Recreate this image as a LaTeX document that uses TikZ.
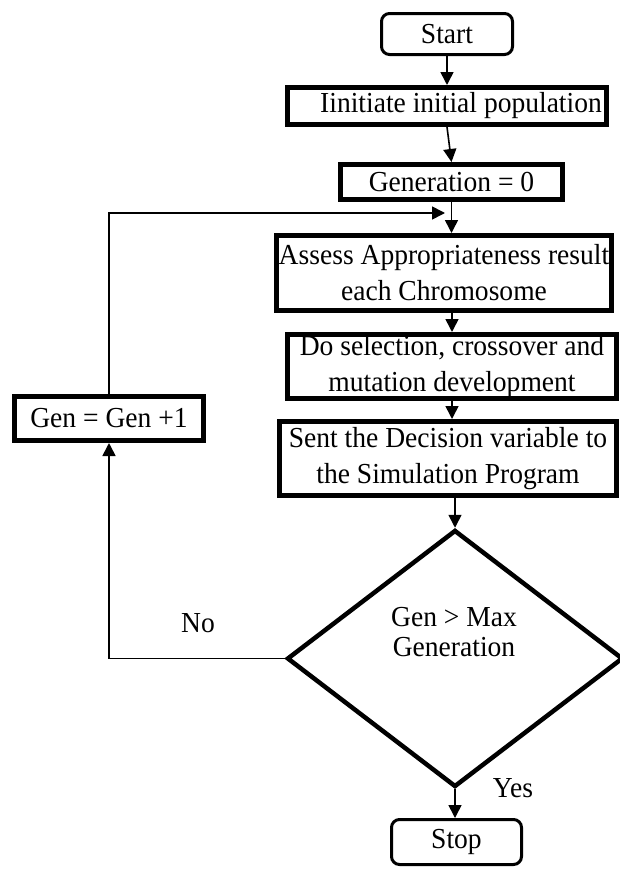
\documentclass[tikz,border=0pt]{standalone}
\usepackage{fontspec}
\setmainfont[FakeStretch=0.95]{Liberation Serif}
\usetikzlibrary{arrows.meta,shapes.geometric}
\begin{document}
\begin{tikzpicture}[x=1pt,y=-1pt,
  every node/.style={font=\fontsize{29}{36}\selectfont},
  term/.style={draw,line width=3pt,rounded corners=8pt,inner sep=0pt},
  proc/.style={draw,line width=5pt,inner sep=0pt,align=center},
  decision/.style={draw,diamond,line width=4.5pt,inner sep=0pt},
  conn/.style={line width=1.6pt,-{Triangle[length=13pt,width=13pt]}}]
\useasboundingbox (0,0) rectangle (619,870);
\node[term,minimum width=131pt,minimum height=41pt] (start) at (447,34) {Start};
\node[proc,minimum width=319pt,minimum height=37pt] (init) at (447,106) {\hspace*{28pt}Iinitiate initial population};
\node[proc,minimum width=222pt,minimum height=35pt] (gen0) at (451.5,182) {Generation = 0};
\node[proc,minimum width=335pt,minimum height=75pt] (assess) at (444,273) {Assess Appropriateness result\\each Chromosome};
\node[proc,minimum width=329pt,minimum height=64pt] (sel) at (452,366.5) {Do selection, crossover and\\mutation development};
\node[proc,minimum width=337pt,minimum height=74pt] (sent) at (448,458.5) {Sent the Decision variable to\\the Simulation Program};
\node[proc,minimum width=189pt,minimum height=44pt] (inc) at (109,418.5) {Gen = Gen +1};
\node[decision,minimum width=336pt,minimum height=257pt] (dec) at (455,658.5) {};
\node[align=center,font=\fontsize{29}{30}\selectfont] (dectext) at (454,632) {Gen {>} Max\\Generation};
\node[term,minimum width=130pt,minimum height=45pt] (stop) at (456.5,842) {Stop};
\node (no) at (198,623) {No};
\node (yes) at (513,788) {Yes};
\coordinate (fb) at (445,213);

\draw[conn] (start.south) -- (init.north);
\draw[conn] (init.south) -- (gen0.north);
\draw[conn] (gen0.south) -- (gen0.south |- assess.north);
\draw[conn] (assess.south -| sel.north) -- (sel.north);
\draw[conn] (sel.south) -- (sel.south |- sent.north);
\draw[conn] (sent.south -| dec.north) -- (dec.north);
\draw[conn] (dec.south) -- (dec.south |- stop.north);
\draw[conn] (dec.west) -| (inc.south);
\draw[conn] (inc.north) |- (fb);
\end{tikzpicture}
\end{document}
